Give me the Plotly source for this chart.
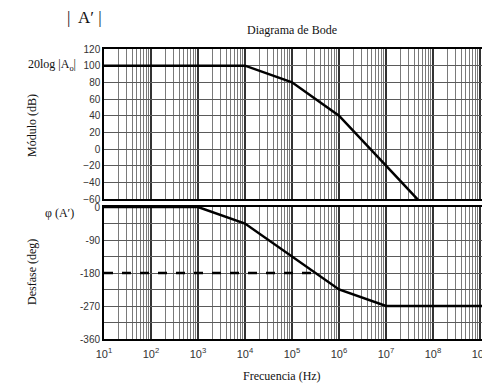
import plotly.graph_objects as go

# Data
mag_freq = [1e1, 1e4, 1e5, 1e6, 1e7, 5e7]
mag_db = [100, 100, 80, 40, -20, -62]
phase_freq = [1e1, 1e3, 1e4, 1e6, 1e7, 1e10]
phase_deg = [0, 0, -45, -225, -270, -270]
ref_freq = [1e1, 10**5.5]
ref_deg = [-180, -180]

x_ticks = [1e1, 1e2, 1e3, 1e4, 1e5, 1e6, 1e7, 1e8, 1e9]
x_ticktext = ["10<sup>%d</sup>" % e for e in range(1, 10)]
mag_ticks = [120, 100, 80, 60, 40, 20, 0, -20, -40, -60]
phase_ticks = [0, -45, -90, -135, -180, -225, -270, -315, -360]
phase_ticktext = ["0", "", "-90", "", "-180", "", "-270", "", "-360"]

W, H = 482, 388
PL, PR, PT, PB = 104, 482, 49, 339          # plot area in window pixels
L, R, T, B = PL, W - PR, PT, H - PB
pw, ph = PR - PL, PB - PT

fig = go.Figure()
fig.add_trace(go.Scatter(x=mag_freq, y=mag_db, mode="lines",
                         line=dict(color="black", width=2.5), xaxis="x", yaxis="y"))
fig.add_trace(go.Scatter(x=phase_freq, y=phase_deg, mode="lines",
                         line=dict(color="black", width=2.5), xaxis="x2", yaxis="y2"))
fig.add_trace(go.Scatter(x=ref_freq, y=ref_deg, mode="lines",
                         line=dict(color="black", width=2.5, dash="dash"), xaxis="x2", yaxis="y2"))

grid_c = "#5a5a5a"
minor_c = "#7a7a7a"
tickfont = dict(family="Liberation Sans, Arial", size=10, color="#333")
xcommon = dict(type="log", range=[1, 1 + pw / 47.0], showgrid=True,
               gridcolor="#333333", gridwidth=1.5,
               minor=dict(dtick="D1", showgrid=True, gridcolor=minor_c, gridwidth=1),
               showline=True, linecolor="black", linewidth=1.5, mirror=True,
               zeroline=False, ticks="", automargin=False, ticklabeloverflow="allow")
mag_bottom = 140 / ph
fig.update_layout(
    width=W, height=H, margin=dict(l=L, r=R, t=T, b=B),
    plot_bgcolor="white", paper_bgcolor="white", showlegend=False,
    xaxis=dict(**xcommon, domain=[0, 1], anchor="y", showticklabels=False,
               tickvals=x_ticks),
    yaxis=dict(domain=[mag_bottom, 1], range=[-60, 120], tickvals=mag_ticks,
               showgrid=True, gridcolor=grid_c, gridwidth=1, zeroline=False,
               showline=True, linecolor="black", linewidth=1.5, mirror=True,
               tickfont=tickfont, ticks="", automargin=False),
    xaxis2=dict(**xcommon, domain=[0, 1], anchor="y2", tickvals=x_ticks,
                ticktext=x_ticktext, ticklabelstandoff=4,
                tickfont=dict(family="Liberation Sans, Arial", size=11, color="#333")),
    yaxis2=dict(domain=[0, 132 / ph], range=[-360, 0], tickvals=phase_ticks,
                ticktext=phase_ticktext, showgrid=True, gridcolor=grid_c, gridwidth=1,
                zeroline=False, showline=True, linecolor="black", linewidth=2, mirror=True,
                tickfont=tickfont, ticks="", automargin=False),
)

serif = dict(family="Liberation Serif, Times New Roman", size=12, color="#111")


def px(xw):
    return (xw - PL) / pw


def py(yw):
    return (PB - yw) / ph


ann = [
    dict(text="Diagrama de Bode", x=292, y=30),
    dict(text="Frecuencia (Hz)", x=282, y=376),
    dict(text="20log |A<sub>o</sub>|", x=52, y=65),
    dict(text="φ (A′)", x=59, y=213),
]
for a in ann:
    fig.add_annotation(text=a["text"], xref="paper", yref="paper",
                       x=px(a["x"]), y=py(a["y"]),
                       showarrow=False, font=serif, xanchor="center", yanchor="middle")
fig.add_annotation(text="|  A′ |", xref="paper", yref="paper",
                   x=px(84), y=py(17), showarrow=False,
                   font=dict(family="Liberation Serif", size=17, color="#111"),
                   xanchor="center", yanchor="middle")
for txt, yc in [("Módulo (dB)", 126), ("Desfase (deg)", 272)]:
    fig.add_annotation(text=txt, xref="paper", yref="paper",
                       x=px(32), y=py(yc), showarrow=False,
                       textangle=-90, font=serif, xanchor="center", yanchor="middle")

fig.write_html(
    "out.html",
    config={"displayModeBar": False},
    post_script="document.body.style.margin='0';"
                "document.documentElement.style.overflow='hidden';"
                "document.body.style.overflow='hidden';",
)
